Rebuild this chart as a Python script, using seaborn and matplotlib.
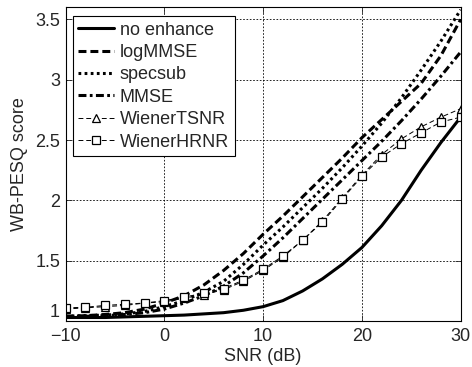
import numpy as np
import pandas as pd
import matplotlib
matplotlib.use("Agg")
import matplotlib.pyplot as plt
import seaborn as sns
from matplotlib.ticker import FormatStrFormatter

snr = [-10, -8, -6, -4, -2, 0, 2, 4, 6, 8, 10, 12, 14, 16, 18, 20, 22, 24, 26, 28, 30]
no_enhance = [1.03, 1.03, 1.03, 1.035, 1.04, 1.045, 1.05, 1.06, 1.07, 1.09, 1.12,
              1.17, 1.25, 1.35, 1.47, 1.61, 1.79, 2.00, 2.25, 2.48, 2.69]
logmmse = [1.04, 1.045, 1.055, 1.07, 1.10, 1.15, 1.21, 1.30, 1.42, 1.56, 1.72,
           1.87, 2.03, 2.19, 2.35, 2.52, 2.67, 2.82, 2.97, 3.20, 3.50]
specsub = [1.04, 1.045, 1.05, 1.06, 1.08, 1.12, 1.17, 1.24, 1.33, 1.47, 1.63,
           1.78, 1.94, 2.10, 2.27, 2.45, 2.64, 2.85, 3.08, 3.32, 3.58]
mmse = [1.04, 1.04, 1.045, 1.055, 1.07, 1.10, 1.15, 1.21, 1.29, 1.40, 1.54,
        1.69, 1.85, 2.01, 2.17, 2.33, 2.49, 2.66, 2.84, 3.03, 3.23]
wiener_tsnr = [1.10, 1.11, 1.12, 1.13, 1.15, 1.16, 1.19, 1.22, 1.26, 1.33, 1.42,
               1.53, 1.67, 1.83, 2.02, 2.21, 2.38, 2.51, 2.61, 2.69, 2.76]
wiener_hrnr = [1.11, 1.115, 1.13, 1.14, 1.15, 1.17, 1.20, 1.23, 1.27, 1.34, 1.43,
               1.54, 1.67, 1.82, 2.01, 2.20, 2.36, 2.47, 2.56, 2.65, 2.69]

labels = ["no enhance", "logMMSE", "specsub", "MMSE", "WienerTSNR", "WienerHRNR"]
series = [no_enhance, logmmse, specsub, mmse, wiener_tsnr, wiener_hrnr]
xticks = [-10, 0, 10, 20, 30]
yticks = [1, 1.5, 2, 2.5, 3, 3.5]

df = pd.concat([pd.DataFrame({"SNR": snr, "score": s, "method": l})
                for l, s in zip(labels, series)], ignore_index=True)

sns.set_style("white")
plt.rcParams["font.family"] = ["Liberation Sans", "DejaVu Sans"]

styles = {
    "no enhance": dict(lw=2.2, ls="-", marker=None),
    "logMMSE": dict(lw=2.2, ls=(0, (2.6, 1.3)), marker=None),
    "specsub": dict(lw=2.2, ls=(0, (0.9, 1.1)), marker=None),
    "MMSE": dict(lw=2.2, ls=(0, (2.6, 1.1, 0.9, 1.1)), marker=None),
    "WienerTSNR": dict(lw=0.7, ls=(0, (5, 3)), marker="^"),
    "WienerHRNR": dict(lw=0.7, ls=(0, (5, 3)), marker="s"),
}

fig = plt.figure(figsize=(4.72, 3.67), dpi=100)
ax = fig.add_axes([0.139, 0.125, 0.837, 0.855])

for l in labels:
    st = styles[l]
    sub = df[df["method"] == l]
    kw = dict(color="black", linewidth=st["lw"], linestyle=st["ls"], label=l)
    if st["marker"]:
        kw.update(marker=st["marker"], markersize=6, markerfacecolor="white",
                  markeredgecolor="black", markeredgewidth=0.9)
    sns.lineplot(data=sub, x="SNR", y="score", ax=ax, **kw)
    ax.lines[-1].set_dash_capstyle("butt")

ax.set_xlim(-10, 30)
ax.set_ylim(1, 3.6)
ax.set_xticks(xticks)
ax.set_yticks(yticks)
ax.yaxis.set_major_formatter(FormatStrFormatter("%g"))
ax.grid(True, color="black", linestyle=(0, (2, 2)), linewidth=0.6)
ax.tick_params(direction="in", length=4, width=0.6, labelsize=13,
               top=True, right=True, bottom=True, left=True)
ax.tick_params(axis="x", pad=5)
ax.tick_params(axis="y", pad=4)
for sp in ax.spines.values():
    sp.set_color("black")
    sp.set_linewidth(0.8)
ax.set_xlabel("SNR (dB)", fontsize=13, labelpad=2)
ax.set_ylabel("WB-PESQ score", fontsize=13, labelpad=5)

fig.canvas.draw()
ax.get_yticklabels()[0].set_verticalalignment("bottom")

leg = ax.legend(loc="upper left", bbox_to_anchor=(0.0185, 0.972), borderaxespad=0,
                fontsize=13, frameon=True, fancybox=False, edgecolor="black",
                framealpha=1, handlelength=2.0, handletextpad=0.3,
                labelspacing=0.3, borderpad=0.3)
leg.get_frame().set_linewidth(0.8)

fig.savefig("out.png", dpi=100)
